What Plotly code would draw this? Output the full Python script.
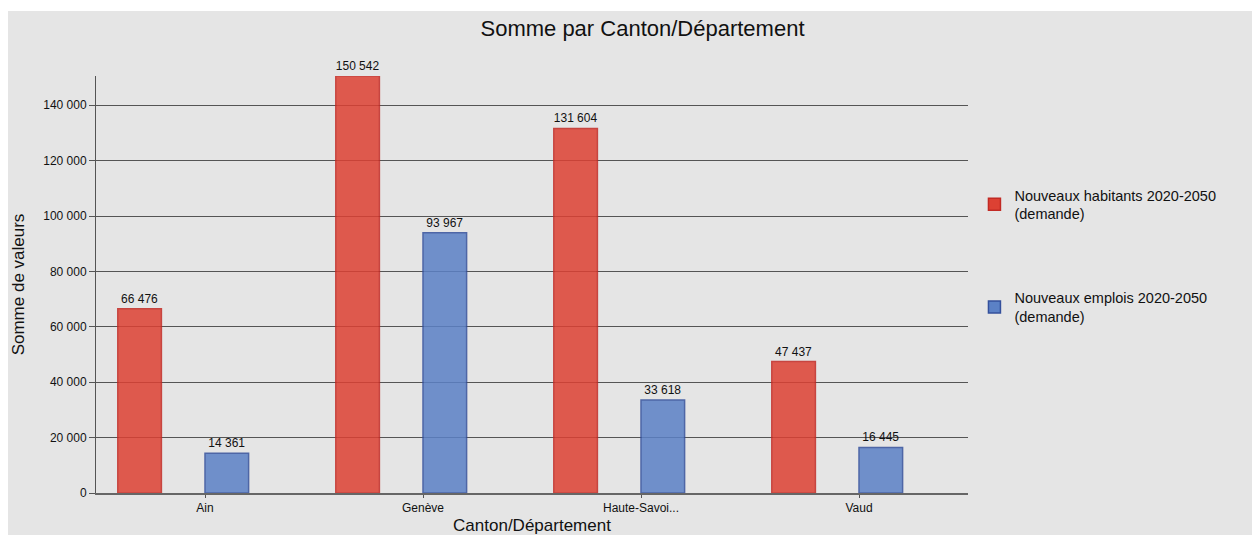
import plotly.graph_objects as go

categories = ["Ain", "Genève", "Haute-Savoi...", "Vaud"]
habitants = [66476, 150542, 131604, 47437]
emplois = [14361, 93967, 33618, 16445]
series_names = ["Nouveaux habitants 2020-2050<br>(demande)", "Nouveaux emplois 2020-2050<br>(demande)"]
y_ticks = [0, 20000, 40000, 60000, 80000, 100000, 120000, 140000]

FONT = "Liberation Sans, Arial, sans-serif"
BG = "#E5E5E5"

fig = go.Figure()
fig.add_trace(go.Bar(
    x=categories, y=habitants, name=series_names[0],
    marker=dict(color="#DD4133", opacity=0.85, line=dict(color="#C22A24", width=1.5)),
    width=0.2, offset=-0.4,
    texttemplate="%{y:,d}", textposition="outside", cliponaxis=False,
    textfont=dict(size=12, color="#111", family=FONT),
    legendgroup="a",
))
fig.add_trace(go.Bar(
    x=categories, y=emplois, name=series_names[1],
    marker=dict(color="#5B81C6", opacity=0.85, line=dict(color="#34509C", width=1.5)),
    width=0.2, offset=0.0,
    texttemplate="%{y:,d}", textposition="outside", cliponaxis=False,
    textfont=dict(size=12, color="#111", family=FONT),
    legendgroup="b",
))

W, H = 1244, 524
fig.update_layout(
    width=W, height=H,
    margin=dict(l=88, r=284, t=65, b=42, autoexpand=False),
    paper_bgcolor=BG, plot_bgcolor=BG,
    separators=", ",
    font=dict(family=FONT, color="#111", size=12),
    title=dict(text="Somme par Canton/Département", x=634.5 / W, xanchor="center",
               y=1 - 17 / H, yanchor="middle", xref="container", yref="container",
               font=dict(size=22, family=FONT, color="#111")),
    barmode="group",
    showlegend=True,
    legend=dict(x=1.0074, xanchor="left", y=0.753, yanchor="top",
                traceorder="grouped", tracegroupgap=62,
                font=dict(size=14.5, family=FONT, color="#111"),
                bgcolor="rgba(0,0,0,0)", itemwidth=30),
    xaxis=dict(
        type="category", range=[-0.5, 3.5],
        showline=True, linecolor="#666", linewidth=2,
        ticks="outside", ticklen=3, tickcolor="#555",
        tickfont=dict(size=12, family=FONT, color="#111"),
        showgrid=False, zeroline=False,
        title=dict(text="Canton/Département", font=dict(size=17, family=FONT, color="#111"), standoff=8),
    ),
    yaxis=dict(
        range=[0, 150542], tickvals=y_ticks, tickformat=",d",
        showline=True, linecolor="#555", linewidth=1,
        ticks="outside", ticklen=6, tickcolor="#555",
        showgrid=True, gridcolor="#555", gridwidth=1,
        zeroline=False,
        tickfont=dict(size=12, family=FONT, color="#111"),
        title=dict(text="Somme de valeurs", font=dict(size=17, family=FONT, color="#111"), standoff=14),
    ),
)

fig.write_html("out.html", post_script="document.body.style.margin='11px 0 0 8px';document.body.style.overflow='hidden';")
